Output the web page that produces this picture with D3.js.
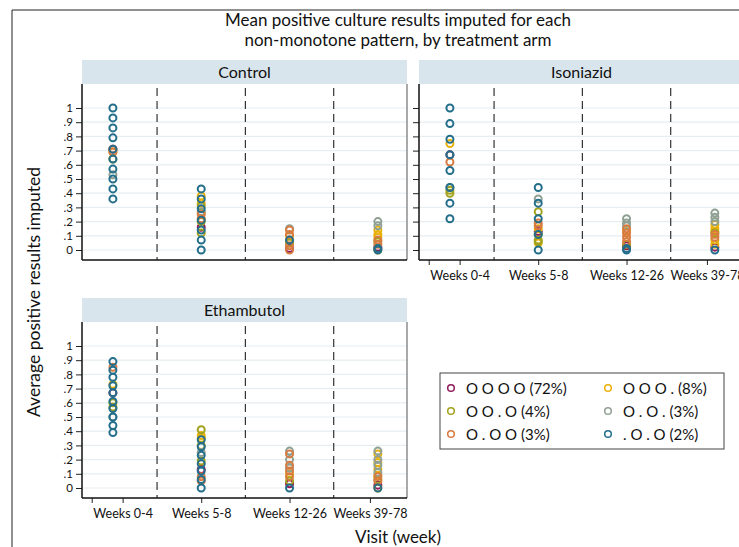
<!DOCTYPE html>
<html>
<head>
<meta charset="utf-8">
<script src="https://cdn.jsdelivr.net/npm/d3@7"></script>
<style>
  body { margin: 0; background: #fff; }
  svg { display: block; font-family: Lato, "Open Sans", sans-serif; }
</style>
</head>
<body>
<svg id="chart" width="739" height="547"></svg>
<script>
// categories
const arms = ["Control", "Isoniazid", "Ethambutol"];
const visits = ["Weeks 0-4", "Weeks 5-8", "Weeks 12-26", "Weeks 39-78"];
const patterns = ["O O O O (72%)", "O O O . (8%)", "O O . O (4%)", "O . O . (3%)", "O . O O (3%)", ". O . O (2%)"];
const patternColors = ["#8e1b5b", "#e8b10a", "#a3a21c", "#8fa093", "#d87b40", "#236e8a"];

// x positions of the visits and the axis tick values (Stata-like layout)
const visitPos = [1, 2, 3, 4];
const xTickVals = [0.76, 1.11, 2, 3, 3.91];
const xTickLabels = ["", "Weeks 0-4", "Weeks 5-8", "Weeks 12-26", "Weeks 39-78"];
const yTicks = [0, .1, .2, .3, .4, .5, .6, .7, .8, .9, 1];
const yTickLabels = ["0", ".1", ".2", ".3", ".4", ".5", ".6", ".7", ".8", ".9", "1"];

// mean imputed values, one list per visit
const ctlP1 = [[.71], [.16], [.01], [.02]];
const ctlP2 = [[.69], [.38, .33, .26], [.1], [.14, .11, .09, 0]];
const ctlP3 = [[.64], [.31, .2, .12], [.05], [.06]];
const ctlP4 = [[.53], [.27], [.15], [.2, .17]];
const ctlP5 = [[.71, .69], [.25, .22], [.14, .11, .07, .03, 0], [.07, .04]];
const ctlP6 = [[1, .93, .86, .79, .71, .64, .57, .5, .43, .36], [.43, .36, .29, .21, .14, .07, 0], [.07], [.01, 0]];

const isoP1 = [[.67], [.13], [.03], [.02]];
const isoP2 = [[.75], [.15, .05], [.13], [.18, .15, .13, .07, .04]];
const isoP3 = [[.42, .4], [.27, .11, .07, .06], [.04], [.12]];
const isoP4 = [[.44], [.36], [.22, .19, .17], [.26, .23, .2]];
const isoP5 = [[.62], [.19, .17], [.15, .12, .09, .06], [.11, .09]];
const isoP6 = [[1, .89, .78, .67, .56, .44, .33, .22], [.44, .33, .22, .11, 0], [.01, 0], [0]];

const ethP1 = [[.67], [.13], [.03], [.02]];
const ethP2 = [[.73], [.37, .35], [.1], [.24, .18, .13, .09, 0]];
const ethP3 = [[.6, .57], [.41, .3, .19], [.05], [.06]];
const ethP4 = [[.5], [.25], [.26, .2, .14], [.26, .2, .16, .11]];
const ethP5 = [[.85], [.08, .05], [.24, .16, .12, .08], [.08, .05]];
const ethP6 = [[.89, .83, .78, .72, .67, .61, .56, .5, .44, .39], [.34, .29, .23, .17, .12, .06, 0], [0], [0]];

const armSeries = [
  [ctlP1, ctlP2, ctlP3, ctlP4, ctlP5, ctlP6],
  [isoP1, isoP2, isoP3, isoP4, isoP5, isoP6],
  [ethP1, ethP2, ethP3, ethP4, ethP5, ethP6]
];

const svg = d3.select("#chart");
const W = 739, H = 547;

// outer frame (left and top edges visible)
svg.append("line").attr("x1", 12).attr("x2", 12).attr("y1", 10).attr("y2", H)
  .attr("stroke", "#222").attr("stroke-width", 1);
svg.append("line").attr("x1", 12).attr("x2", W).attr("y1", 10).attr("y2", 10)
  .attr("stroke", "#222").attr("stroke-width", 1);

// title
svg.append("text").attr("x", 398).attr("y", 26).attr("text-anchor", "middle")
  .attr("font-size", 17).attr("fill", "#111")
  .text("Mean positive culture results imputed for each");
svg.append("text").attr("x", 398).attr("y", 46).attr("text-anchor", "middle")
  .attr("font-size", 17).attr("fill", "#111")
  .text("non-monotone pattern, by treatment arm");

const panelW = 325, headH = 24, plotH = 176;
const panels = [
  { x: 82, y: 60, ylab: true, xlab: false },
  { x: 419, y: 60, ylab: false, xlab: true },
  { x: 82, y: 298, ylab: true, xlab: true }
];

arms.forEach((arm, i) => {
  const p = panels[i];
  const top = p.y + headH, bottom = top + plotH;
  const g = svg.append("g");

  const x = d3.scaleLinear().domain([0.65, 4.33]).range([p.x, p.x + panelW]);
  const y = d3.scaleLinear().domain([0, 1]).range([top + 166, top + 24]);

  // header strip
  g.append("rect").attr("x", p.x).attr("y", p.y).attr("width", panelW).attr("height", headH)
    .attr("fill", "#d9e5ec");
  g.append("text").attr("x", p.x + panelW / 2).attr("y", p.y + 18)
    .attr("text-anchor", "middle").attr("font-size", 16).attr("fill", "#111").text(arm);

  // grid lines
  g.selectAll(".grid").data(yTicks).enter().append("line")
    .attr("x1", p.x).attr("x2", p.x + panelW)
    .attr("y1", d => y(d)).attr("y2", d => y(d))
    .attr("stroke", "#e6eef1").attr("stroke-width", 1.2);

  // dashed separators between visits
  g.selectAll(".sep").data([1.5, 2.5, 3.5]).enter().append("line")
    .attr("x1", d => x(d)).attr("x2", d => x(d))
    .attr("y1", top + 4).attr("y2", bottom)
    .attr("stroke", "#333").attr("stroke-width", 1.2).attr("stroke-dasharray", "8,5");

  // plot box
  g.append("line").attr("x1", p.x + panelW).attr("x2", p.x + panelW).attr("y1", top).attr("y2", bottom)
    .attr("stroke", "#555").attr("stroke-width", 1);

  // y axis
  const yAxis = d3.axisLeft(y).tickValues(yTicks).tickSize(6)
    .tickFormat((d, k) => p.ylab ? yTickLabels[k] : "");
  const ya = g.append("g").attr("transform", `translate(${p.x},0)`).call(yAxis);
  ya.select(".domain").remove();
  ya.selectAll("text").attr("font-size", 11.5).attr("fill", "#111").attr("font-family", "Lato, sans-serif");
  ya.selectAll(".tick line").attr("stroke", "#222");
  g.append("line").attr("x1", p.x).attr("x2", p.x).attr("y1", top).attr("y2", bottom)
    .attr("stroke", "#111").attr("stroke-width", 1.5);

  // x axis
  if (p.xlab) {
    const xAxis = d3.axisBottom(x).tickValues(xTickVals).tickSize(5)
      .tickFormat((d, k) => xTickLabels[k]);
    const xa = g.append("g").attr("transform", `translate(0,${bottom})`).call(xAxis);
    xa.select(".domain").remove();
    xa.selectAll("text").attr("font-size", 12.5).attr("fill", "#111").attr("font-family", "Lato, sans-serif")
      .attr("dy", "0.95em");
    xa.selectAll(".tick line").attr("stroke", "#222");
  }
  g.append("line").attr("x1", p.x).attr("x2", p.x + panelW).attr("y1", bottom).attr("y2", bottom)
    .attr("stroke", "#111").attr("stroke-width", 1.5);

  // markers, drawn series by series so the last pattern sits on top
  armSeries[i].forEach((series, s) => {
    const pts = [];
    series.forEach((vals, v) => vals.forEach(val => pts.push({ v: visitPos[v], val })));
    g.append("g").selectAll("circle").data(pts).enter().append("circle")
      .attr("cx", d => x(d.v)).attr("cy", d => y(d.val)).attr("r", 3.5)
      .attr("fill", "none").attr("stroke", patternColors[s]).attr("stroke-width", 2);
  });
});

// axis titles
svg.append("text").attr("transform", "translate(40,292) rotate(-90)")
  .attr("text-anchor", "middle").attr("font-size", 17.5).attr("fill", "#111")
  .text("Average positive results imputed");
svg.append("text").attr("x", 398).attr("y", 543).attr("text-anchor", "middle")
  .attr("font-size", 17).attr("fill", "#111").text("Visit (week)");

// legend
const lg = svg.append("g");
lg.append("rect").attr("x", 440).attr("y", 373).attr("width", 284).attr("height", 76)
  .attr("fill", "#fff").attr("stroke", "#444").attr("stroke-width", 1);
patterns.forEach((lab, k) => {
  const col = k % 2, row = Math.floor(k / 2);
  const lx = 451 + col * 157, ly = 388 + row * 23;
  lg.append("circle").attr("cx", lx).attr("cy", ly).attr("r", 3.3)
    .attr("fill", "none").attr("stroke", patternColors[k]).attr("stroke-width", 1.5);
  lg.append("text").attr("x", lx + 15).attr("y", ly + 5.5).attr("font-size", 15)
    .attr("fill", "#111").text(lab);
});
</script>
</body>
</html>
